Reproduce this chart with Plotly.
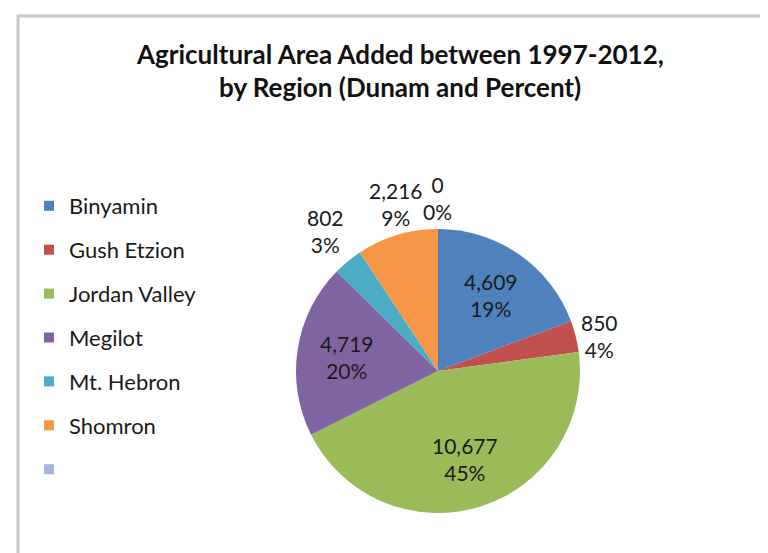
import math
import plotly.graph_objects as go

# ---- data ----
regions = ["Binyamin", "Gush Etzion", "Jordan Valley", "Megilot", "Mt. Hebron", "Shomron", ""]
dunam = [4609, 850, 10677, 4719, 802, 2216, 0]
colors = ["#4F81BD", "#C0504D", "#9BBB59", "#8064A2", "#4BACC6", "#F79646", "#A5B7DE"]
label_pos = ["inside", "outside", "inside", "inside", "outside", "outside", "outside"]
title_lines = ["Agricultural Area Added between 1997-2012,", "by Region (Dunam and Percent)"]

FONT = "Lato, 'Open Sans', sans-serif"
TXT = "#1a1a1a"
W, H = 768, 553
CX, CY, R = 430, 363, 142  # pie centre / radius in pixels (layout)

fig = go.Figure()

pie_labels = [r if r else "\u00a0" for r in regions]
fig.add_trace(go.Pie(
    labels=pie_labels,
    values=dunam,
    sort=False,
    direction="clockwise",
    rotation=0,
    marker=dict(colors=colors, line=dict(width=0)),
    textinfo="none",
    showlegend=False,
    domain=dict(x=[(CX - R) / W, (CX + R) / W],
                y=[(H - CY - R) / H, (H - CY + R) / H]),
    hoverinfo="label+value+percent",
))

# data labels (Excel "best fit" style), positioned from the slice angles
total = sum(dunam)
cum = 0
for v, pos in zip(dunam, label_pos):
    mid = (cum + v / 2) / total
    cum += v
    th = 2 * math.pi * mid
    ux, uy = math.sin(th), -math.cos(th)
    txt = f"{v:,}<br>{round(100 * v / total)}%"
    if pos == "inside":
        px, py = CX + 0.65 * R * ux, CY + 0.65 * R * uy
        xa, ya = "center", "middle"
    else:
        px, py = CX + (R + 3) * ux, CY + (R + 3) * uy
        xa = "center" if abs(ux) < 0.5 else ("left" if ux > 0 else "right")
        ya = "middle" if abs(uy) < 0.5 else ("bottom" if uy < 0 else "top")
    fig.add_annotation(text=txt, x=px / W, y=1 - py / H, xref="paper", yref="paper",
                       showarrow=False, xanchor=xa, yanchor=ya, align="center",
                       font=dict(family=FONT, size=21, color=TXT))

# legend entries built from the same category list
for name, c in zip(regions, colors):
    fig.add_trace(go.Scatter(
        x=[None], y=[None], mode="markers",
        marker=dict(symbol="square", size=10, color=c),
        name=name if name else "\u00a0",
        legendgroup=name if name else "blank",
        showlegend=True, hoverinfo="skip",
    ))

for line, yc in zip(title_lines, [46, 79]):
    fig.add_annotation(text="<b>" + line + "</b>", x=392 / W, y=1 - yc / H,
                       xref="paper", yref="paper", showarrow=False,
                       xanchor="center", yanchor="middle",
                       font=dict(family=FONT, size=26, color="#111111"))

# chart frame
fig.add_shape(type="rect", xref="paper", yref="paper",
              x0=10 / W, x1=1.05, y0=-0.05, y1=1 - 8 / H,
              line=dict(color="#C8C8C8", width=3), fillcolor="rgba(0,0,0,0)", layer="below")

fig.update_layout(
    width=W, height=H,
    margin=dict(l=0, r=0, t=0, b=0),
    paper_bgcolor="white", plot_bgcolor="white",
    font=dict(family=FONT, color=TXT),
    xaxis=dict(visible=False), yaxis=dict(visible=False),
    legend=dict(x=21 / W, y=1 - 177 / H, xanchor="left", yanchor="top",
                font=dict(family=FONT, size=22, color=TXT),
                tracegroupgap=12.3, bgcolor="rgba(0,0,0,0)", itemsizing="trace"),
)

fig.write_html("out.html")
